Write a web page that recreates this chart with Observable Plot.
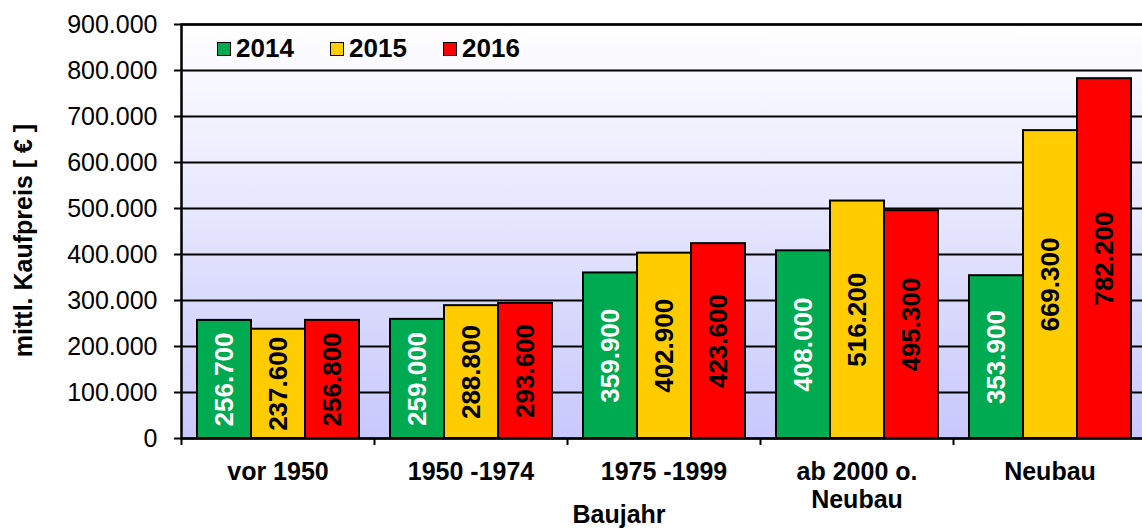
<!DOCTYPE html>
<html>
<head>
<meta charset="utf-8">
<script src="https://cdn.jsdelivr.net/npm/d3@7"></script>
<script src="https://cdn.jsdelivr.net/npm/@observablehq/plot@0.6"></script>
<style>
  html, body { margin: 0; padding: 0; background: #fff; overflow: hidden; }
  #wrap { position: relative; width: 1142px; height: 529px; font-family: "Liberation Sans", Arial, sans-serif; }
  #legend { position: absolute; left: 217px; top: 33px; display: flex; gap: 0; font-weight: bold; font-size: 26px; }
  #legend .item { display: flex; align-items: center; width: 113px; }
  #legend .sw { width: 12px; height: 12px; border: 1.5px solid #000; margin-right: 5px; }
</style>
</head>
<body>
<div id="wrap"></div>
<script>
const categories = ["vor 1950", "1950 -1974", "1975 -1999", "ab 2000 o.\nNeubau", "Neubau"];
const years = ["2014", "2015", "2016"];
const colors = ["#00aa50", "#ffcc00", "#ff0000"];
const labelColors = ["#ffffff", "#000000", "#000000"];
const v2014 = [256700, 259000, 359900, 408000, 353900];
const v2015 = [237600, 288800, 402900, 516200, 669300];
const v2016 = [256800, 293600, 423600, 495300, 782200];
const yTicks = [0, 100000, 200000, 300000, 400000, 500000, 600000, 700000, 800000, 900000];
const yLabel = "mittl. Kaufpreis [ € ]";
const xLabel = "Baujahr";

const series = [v2014, v2015, v2016];
const de = d3.formatLocale({decimal: ",", thousands: ".", grouping: [3], currency: ["", "€"]});
const fmt = de.format(",d");

// bar placement within each category band (pixels)
const insets = [[16, 123], [70, 69], [124, 15]];
const labelDx = [-53.5, 0.5, 54.5];

const marks = [
  Plot.frame({fill: "url(#bgGrad)", stroke: null}),
  Plot.ruleY(yTicks, {stroke: "#000", strokeWidth: 2})
];
series.forEach((vals, i) => {
  marks.push(Plot.barY(categories, {
    x: categories, y: vals, fill: colors[i], stroke: "#000", strokeWidth: 2,
    insetLeft: insets[i][0], insetRight: insets[i][1]
  }));
});
series.forEach((vals, i) => {
  marks.push(Plot.text(categories, {
    x: categories, y: vals.map(v => v / 2), text: vals.map(fmt),
    rotate: -90, dx: labelDx[i], fill: labelColors[i],
    fontSize: 26, fontWeight: "bold", textAnchor: "middle", lineAnchor: "middle"
  }));
});
marks.push(
  Plot.frame({stroke: "#000", strokeWidth: 2.5}),
  Plot.axisY({ticks: yTicks, tickSize: 7, tickPadding: 17, tickFormat: fmt, fontSize: 25, stroke: "#000", strokeWidth: 2, label: null, fill: "#000"}),
  Plot.axisX({tickSize: 7, tickFormat: () => "", dx: -96.5, stroke: "#000", strokeWidth: 2, label: null}),
  Plot.axisX({tickSize: 0, tickPadding: 22, fontSize: 25, fontWeight: "bold", lineHeight: 1.12, label: null, fill: "#000"}),
  Plot.text([yLabel], {frameAnchor: "left", textAnchor: "middle", lineAnchor: "middle", rotate: -90, dx: -158, dy: 9, fontSize: 25, fontWeight: "bold", fill: "#000"}),
  Plot.text([xLabel], {frameAnchor: "bottom", textAnchor: "middle", dx: -45, dy: 84, fontSize: 25, fontWeight: "bold", fill: "#000"})
);

const chart = Plot.plot({
  width: 1142,
  height: 529,
  marginLeft: 181,
  marginRight: -4,
  marginTop: 24,
  marginBottom: 91,
  style: {fontFamily: "'Liberation Sans', Arial, sans-serif", background: "transparent", color: "#000"},
  x: {domain: categories, padding: 0, axis: null},
  y: {domain: [0, 900000], axis: null},
  marks
});

const ns = "http://www.w3.org/2000/svg";
const defs = document.createElementNS(ns, "defs");
defs.innerHTML = '<linearGradient id="bgGrad" x1="0" y1="0" x2="0" y2="1"><stop offset="0" stop-color="#ffffff"/><stop offset="1" stop-color="#c8c8fc"/></linearGradient>';
chart.insertBefore(defs, chart.firstChild);

const wrap = document.getElementById("wrap");
wrap.appendChild(chart);

const legend = document.createElement("div");
legend.id = "legend";
years.forEach((y, i) => {
  const item = document.createElement("div");
  item.className = "item";
  const sw = document.createElement("div");
  sw.className = "sw";
  sw.style.background = colors[i];
  const t = document.createElement("span");
  t.textContent = y;
  item.appendChild(sw);
  item.appendChild(t);
  legend.appendChild(item);
});
wrap.appendChild(legend);
</script>
</body>
</html>
